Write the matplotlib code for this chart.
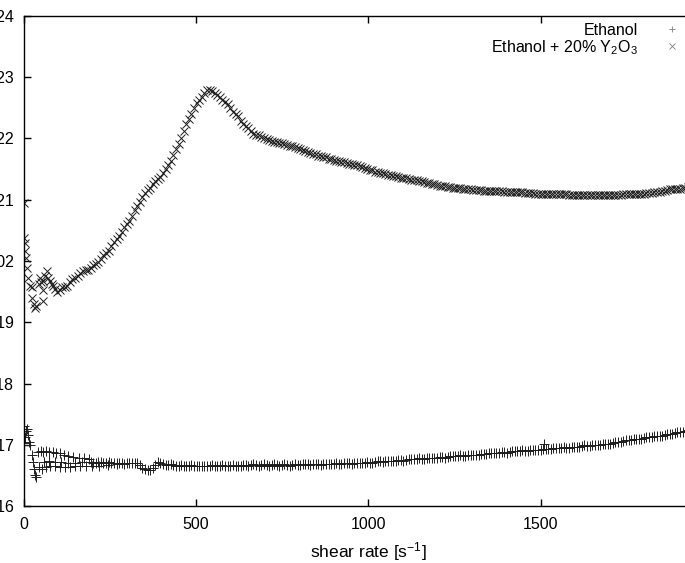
import numpy as np
import matplotlib
matplotlib.use("Agg")
import matplotlib.pyplot as plt

plt.rcParams['font.family'] = ['Liberation Sans', 'DejaVu Sans']
plt.rcParams['mathtext.fontset'] = 'custom'
plt.rcParams['mathtext.rm'] = 'Liberation Sans'
plt.rcParams['mathtext.it'] = 'Liberation Sans:italic'
plt.rcParams['mathtext.default'] = 'regular'

# ---------------- data (viscosity in mPa s, converted to Pa s below) -------------
# Ethanol: start-up scatter (several passes) + sweep + second sweep
ethanol_start_x = [0, 2, 4, 7, 10, 13, 16, 20, 24, 28, 31, 34, 37,
                   42, 50, 58, 66, 75, 85, 95, 105, 118, 130, 145, 160, 175, 190,
                   45, 55, 65, 78, 90, 105, 120, 135, 150, 165, 180, 200, 220, 245, 270,
                   60, 75, 90, 110, 130, 150, 170]
ethanol_start_y = [1.731, 1.703, 1.712, 1.722, 1.726, 1.716, 1.705, 1.700, 1.684, 1.672, 1.660, 1.650, 1.647,
                   1.688, 1.690, 1.688, 1.690, 1.688, 1.688, 1.687, 1.686, 1.684, 1.682, 1.680, 1.679, 1.678, 1.677,
                   1.664, 1.660, 1.663, 1.665, 1.665, 1.664, 1.664, 1.664, 1.665, 1.665, 1.666, 1.665, 1.666, 1.667, 1.668,
                   1.672, 1.673, 1.672, 1.672, 1.671, 1.670, 1.672]
ethanol_x = [195, 210, 225, 240, 255, 270, 285, 300, 315, 330, 345, 360, 375, 390, 405, 420, 435, 450,
             465, 480, 495, 510, 525, 540, 555, 570, 585, 600, 615, 630, 645, 660, 675, 690, 705, 720,
             735, 750, 765, 780, 795, 810, 825, 840, 855, 870, 885, 900, 915, 930, 945, 960, 975, 990,
             1005, 1020, 1035, 1050, 1065, 1080, 1095, 1110, 1125, 1140, 1155, 1170, 1185, 1200, 1215,
             1230, 1245, 1260, 1275, 1290, 1305, 1320, 1335, 1350, 1365, 1380, 1395, 1410, 1425, 1440,
             1455, 1470, 1485, 1500, 1511, 1515, 1530, 1545, 1560, 1575, 1590, 1605, 1620, 1635, 1650,
             1665, 1680, 1695, 1710, 1725, 1740, 1755, 1770, 1785, 1800, 1815, 1830, 1845, 1860, 1875,
             1890, 1905, 1920, 1935, 1950, 1965, 1980]
ethanol_y = [1.672, 1.671, 1.672, 1.671, 1.671, 1.671, 1.670, 1.670, 1.671, 1.670, 1.662, 1.659, 1.662,
             1.672, 1.668, 1.667, 1.667, 1.666, 1.666, 1.666, 1.666, 1.665, 1.666, 1.666, 1.666, 1.666,
             1.666, 1.666, 1.666, 1.666, 1.667, 1.667, 1.667, 1.667, 1.667, 1.667, 1.667, 1.667, 1.667,
             1.667, 1.667, 1.668, 1.668, 1.668, 1.668, 1.668, 1.669, 1.669, 1.669, 1.670, 1.670, 1.670,
             1.671, 1.671, 1.671, 1.672, 1.673, 1.673, 1.674, 1.674, 1.675, 1.675, 1.676, 1.677, 1.677,
             1.678, 1.679, 1.679, 1.680, 1.680, 1.681, 1.682, 1.682, 1.683, 1.684, 1.684, 1.685, 1.686,
             1.686, 1.687, 1.688, 1.688, 1.689, 1.690, 1.690, 1.691, 1.691, 1.692, 1.701, 1.693, 1.693,
             1.694, 1.695, 1.695, 1.696, 1.697, 1.698, 1.698, 1.699, 1.700, 1.701, 1.702, 1.703, 1.705,
             1.706, 1.708, 1.709, 1.710, 1.711, 1.713, 1.714, 1.715, 1.716, 1.718, 1.719, 1.721, 1.722,
             1.724, 1.725, 1.727, 1.728]
ethanol_back_x = [202, 217, 232, 247, 262, 277, 292, 307, 322, 337,
                  352, 367, 382, 397, 412, 427, 442, 457, 472, 487,
                  502, 517, 532, 547, 562, 577, 592, 607, 622, 637,
                  652, 667, 682, 697, 712, 727, 742, 757, 772, 787,
                  802, 817, 832, 847, 862, 877, 892, 907, 922, 937,
                  952, 967, 982, 997, 1012, 1027, 1042, 1057, 1072, 1087,
                  1102, 1117, 1132, 1147, 1162, 1177, 1192, 1207, 1222, 1237,
                  1252, 1267, 1282, 1297, 1312, 1327, 1342, 1357, 1372, 1387,
                  1402, 1417, 1432, 1447, 1462, 1477, 1492, 1507, 1522, 1537,
                  1552, 1567, 1582, 1597, 1612, 1627, 1642, 1657, 1672, 1687,
                  1702, 1717, 1732, 1747, 1762, 1777, 1792, 1807, 1822, 1837,
                  1852, 1867, 1882, 1897, 1912, 1927, 1942, 1957, 1972, 1987]
ethanol_back_y = [1.671, 1.672, 1.670, 1.672, 1.670, 1.671, 1.669, 1.671, 1.671, 1.667,
                  1.660, 1.659, 1.667, 1.671, 1.667, 1.668, 1.666, 1.667, 1.665, 1.667,
                  1.665, 1.666, 1.665, 1.667, 1.665, 1.667, 1.665, 1.667, 1.665, 1.667,
                  1.666, 1.668, 1.666, 1.668, 1.666, 1.668, 1.666, 1.668, 1.666, 1.668,
                  1.667, 1.669, 1.667, 1.669, 1.667, 1.669, 1.668, 1.670, 1.669, 1.671,
                  1.669, 1.671, 1.670, 1.672, 1.671, 1.673, 1.672, 1.674, 1.673, 1.675,
                  1.674, 1.676, 1.676, 1.678, 1.677, 1.679, 1.678, 1.680, 1.679, 1.681,
                  1.681, 1.683, 1.682, 1.684, 1.683, 1.685, 1.685, 1.687, 1.686, 1.688,
                  1.687, 1.689, 1.689, 1.691, 1.690, 1.692, 1.691, 1.693, 1.693, 1.694,
                  1.694, 1.696, 1.695, 1.697, 1.697, 1.699, 1.698, 1.700, 1.700, 1.702,
                  1.702, 1.705, 1.705, 1.708, 1.708, 1.710, 1.710, 1.713, 1.713, 1.715,
                  1.715, 1.718, 1.718, 1.721, 1.721, 1.724, 1.724, 1.727, 1.727, 1.730]

# Ethanol + 20 % Y2O3: start-up scatter + sweep + second sweep
y2o3_start_x = [0, 1, 3, 5, 7, 10, 14, 18, 24, 24, 30, 33, 36, 44, 48, 52, 57, 57, 57, 62, 67, 72, 77, 82, 86, 92, 98]
y2o3_start_y = [2.095, 2.038, 2.030, 2.017, 2.005, 1.988, 1.972, 1.960, 1.957, 1.940, 1.930, 1.924, 1.927,
                1.962, 1.973, 1.966, 1.968, 1.952, 1.935, 1.975, 1.984, 1.972, 1.968, 1.962, 1.960, 1.955, 1.950]
y2o3_x = [105, 120, 135, 150, 165, 180, 195, 210, 225, 240, 255, 270, 285, 300, 315, 330, 345, 360,
          375, 390, 405, 420, 435, 450, 465, 480, 495, 510, 525, 540, 555, 570, 585, 600, 615, 630,
          645, 660, 675, 690, 705, 720, 735, 750, 765, 780, 795, 810, 825, 840, 855, 870, 885, 900,
          915, 930, 945, 960, 975, 990, 1005, 1020, 1035, 1050, 1065, 1080, 1095, 1110, 1125, 1140,
          1155, 1170, 1185, 1200, 1215, 1230, 1245, 1260, 1275, 1290, 1305, 1320, 1335, 1350, 1365,
          1380, 1395, 1410, 1425, 1440, 1455, 1470, 1485, 1500, 1515, 1530, 1545, 1560, 1575, 1590,
          1605, 1620, 1635, 1650, 1665, 1680, 1695, 1710, 1725, 1740, 1755, 1770, 1785, 1800, 1815,
          1830, 1845, 1860, 1875, 1890, 1905, 1920, 1935, 1950, 1965, 1980]
y2o3_y = [1.952, 1.958, 1.966, 1.973, 1.980, 1.985, 1.988, 1.995, 2.003, 2.013, 2.024, 2.036, 2.048,
          2.060, 2.074, 2.090, 2.104, 2.116, 2.126, 2.134, 2.143, 2.156, 2.173, 2.191, 2.212, 2.232,
          2.250, 2.263, 2.275, 2.280, 2.274, 2.267, 2.260, 2.250, 2.240, 2.229, 2.220, 2.212, 2.206,
          2.202, 2.199, 2.196, 2.194, 2.192, 2.189, 2.187, 2.184, 2.181, 2.178, 2.175, 2.172, 2.170,
          2.167, 2.165, 2.163, 2.161, 2.159, 2.157, 2.155, 2.152, 2.149, 2.146, 2.144, 2.142, 2.140,
          2.138, 2.136, 2.135, 2.133, 2.132, 2.130, 2.128, 2.126, 2.124, 2.122, 2.121, 2.120, 2.119,
          2.118, 2.117, 2.116, 2.116, 2.115, 2.115, 2.114, 2.114, 2.113, 2.113, 2.112, 2.112, 2.111,
          2.111, 2.110, 2.110, 2.110, 2.109, 2.109, 2.109, 2.109, 2.108, 2.108, 2.108, 2.108, 2.107,
          2.107, 2.107, 2.108, 2.108, 2.108, 2.109, 2.109, 2.110, 2.110, 2.110, 2.111, 2.112, 2.113,
          2.115, 2.117, 2.118, 2.118, 2.120, 2.121, 2.122, 2.123, 2.124]
y2o3_back_x = [112, 127, 142, 157, 172, 187, 202, 217, 232, 247,
               262, 277, 292, 307, 322, 337, 352, 367, 382, 397,
               412, 427, 442, 457, 472, 487, 502, 517, 532, 547,
               562, 577, 592, 607, 622, 637, 652, 667, 682, 697,
               712, 727, 742, 757, 772, 787, 802, 817, 832, 847,
               862, 877, 892, 907, 922, 937, 952, 967, 982, 997,
               1012, 1027, 1042, 1057, 1072, 1087, 1102, 1117, 1132, 1147,
               1162, 1177, 1192, 1207, 1222, 1237, 1252, 1267, 1282, 1297,
               1312, 1327, 1342, 1357, 1372, 1387, 1402, 1417, 1432, 1447,
               1462, 1477, 1492, 1507, 1522, 1537, 1552, 1567, 1582, 1597,
               1612, 1627, 1642, 1657, 1672, 1687, 1702, 1717, 1732, 1747,
               1762, 1777, 1792, 1807, 1822, 1837, 1852, 1867, 1882, 1897,
               1912, 1927, 1942, 1957, 1972, 1987]
y2o3_back_y = [1.957, 1.960, 1.971, 1.975, 1.984, 1.986, 1.993, 1.998, 2.009, 2.017,
               2.031, 2.041, 2.055, 2.066, 2.083, 2.096, 2.111, 2.120, 2.131, 2.137,
               2.150, 2.163, 2.183, 2.200, 2.223, 2.240, 2.258, 2.268, 2.279, 2.278,
               2.271, 2.263, 2.256, 2.244, 2.236, 2.224, 2.217, 2.208, 2.205, 2.200,
               2.198, 2.195, 2.193, 2.191, 2.188, 2.186, 2.183, 2.180, 2.177, 2.174,
               2.171, 2.169, 2.166, 2.164, 2.162, 2.160, 2.158, 2.156, 2.154, 2.151,
               2.148, 2.145, 2.143, 2.141, 2.139, 2.137, 2.136, 2.134, 2.133, 2.131,
               2.129, 2.127, 2.125, 2.123, 2.122, 2.121, 2.120, 2.119, 2.118, 2.117,
               2.116, 2.116, 2.115, 2.115, 2.114, 2.114, 2.113, 2.113, 2.112, 2.112,
               2.111, 2.111, 2.110, 2.110, 2.110, 2.109, 2.109, 2.109, 2.108, 2.108,
               2.108, 2.108, 2.108, 2.107, 2.107, 2.107, 2.108, 2.108, 2.108, 2.109,
               2.110, 2.110, 2.110, 2.111, 2.111, 2.113, 2.114, 2.116, 2.118, 2.118,
               2.119, 2.121, 2.121, 2.123, 2.123, 2.125]

series_labels = ["Ethanol", "Ethanol + 20% Y$_2$O$_3$"]
x_ticks = [0, 500, 1000, 1500]
x_tick_labels = ["0", "500", "1000", "1500"]
y_ticks = [0.0016, 0.0017, 0.0018, 0.0019, 0.0020, 0.0021, 0.0022, 0.0023, 0.0024]
y_tick_labels = ["0.0016", "0.0017", "0.0018", "0.0019", "0.002", "0.0021", "0.0022", "0.0023", "0.0024"]
x_label = "shear rate [s$^{-1}$]"

# ---------------- figure ----------------
W, H = 685, 563
fig = plt.figure(figsize=(W / 100, H / 100), dpi=100)
left, right, bottom, top = 23.5, 713, 57, 547
ax = fig.add_axes([left / W, bottom / H, (right - left) / W, (top - bottom) / H])

mcol = '#1e1e1e'
eth_x = np.array(ethanol_start_x + ethanol_x + ethanol_back_x)
eth_y = np.array(ethanol_start_y + ethanol_y + ethanol_back_y) / 1000.0
yo_x = np.array(y2o3_start_x + y2o3_x + y2o3_back_x)
yo_y = np.array(y2o3_start_y + y2o3_y + y2o3_back_y) / 1000.0

ax.plot(eth_x, eth_y, linestyle='none', marker='+', markersize=7, markeredgewidth=0.7,
        color=mcol, label=series_labels[0])
ax.plot(yo_x, yo_y, linestyle='none', marker='x', markersize=6, markeredgewidth=0.7,
        color=mcol, label=series_labels[1])

ax.set_xlim(0, 2000)
ax.set_ylim(0.0016, 0.0024)
ax.set_xticks(x_ticks)
ax.set_xticklabels(x_tick_labels)
ax.set_yticks(y_ticks)
ax.set_yticklabels(y_tick_labels)
ax.tick_params(direction='in', length=5, width=1, top=True, right=True,
               labelsize=11.5, colors='black')
ax.tick_params(axis='x', pad=8)
ax.tick_params(axis='y', pad=7)
for s in ax.spines.values():
    s.set_linewidth(1.0)
ax.set_xlabel(x_label, fontsize=12.5, labelpad=6)

leg = ax.legend(loc='upper right', bbox_to_anchor=(677 / W, 1 - 23 / H),
                bbox_transform=fig.transFigure, frameon=False, markerfirst=False,
                fontsize=11.5, borderpad=0, borderaxespad=0, handlelength=0.6,
                handletextpad=1.85, labelspacing=0.0)
for h in leg.legend_handles:
    h.set_color('#808080')
    h.set_markeredgewidth(0.6)
    h.set_markersize(5)

fig.savefig('out.png', dpi=100)
